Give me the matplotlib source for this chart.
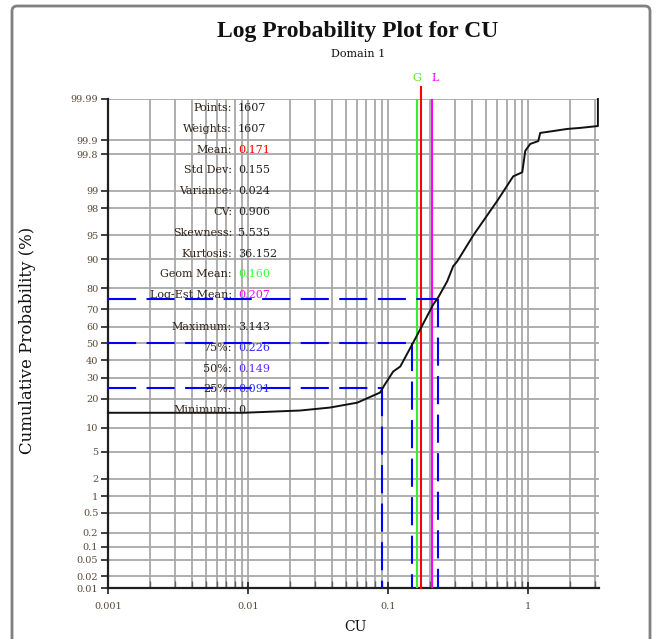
import math
import numpy as np
import matplotlib
matplotlib.use("Agg")
import matplotlib.pyplot as plt
from matplotlib.ticker import FixedLocator, NullLocator, LogLocator, NullFormatter, FixedFormatter
from matplotlib.patches import FancyBboxPatch

# ---------------- data ----------------
cu_values = [0.001, 0.0092, 0.0235, 0.0385, 0.0601, 0.0877, 0.0936, 0.1086, 0.122,
             0.151, 0.169, 0.210, 0.2275, 0.264, 0.291, 0.311, 0.405, 0.601, 0.781,
             0.906, 0.952, 1.033, 1.179, 1.218, 1.484, 1.899, 2.35, 3.143, 3.143]
cum_prob = [14.6, 14.6, 15.4, 16.5, 18.4, 22.8, 26.1, 33.5, 36.3,
            50.6, 58.4, 72.4, 75.8, 82.8, 88.0, 89.4, 95.0, 98.5, 99.45,
            99.54, 99.83, 99.88, 99.896, 99.932, 99.938, 99.945, 99.948, 99.953, 99.99]

y_ticks = [99.99, 99.9, 99.8, 99, 98, 95, 90, 80, 70, 60, 50, 40, 30, 20, 10, 5, 2, 1,
           0.5, 0.2, 0.1, 0.05, 0.02, 0.01]
y_tick_labels = ["99.99", "99.9", "99.8", "99", "98", "95", "90", "80", "70", "60", "50",
                 "40", "30", "20", "10", "5", "2", "1", "0.5", "0.2", "0.1", "0.05",
                 "0.02", "0.01"]
x_ticks = [0.001, 0.01, 0.1, 1]
x_tick_labels = ["0.001", "0.01", "0.1", "1"]

mean_val = 0.171
geom_mean = 0.160
logest_mean = 0.207
pct_levels = [25, 50, 75]
pct_values = [0.091, 0.149, 0.226]

stat_names = ["Points:", "Weights:", "Mean:", "Std Dev:", "Variance:", "CV:", "Skewness:",
              "Kurtosis:", "Geom Mean:", "Log-Est Mean:", "Maximum:", "75%:", "50%:",
              "25%:", "Minimum:"]
stat_values = ["1607", "1607", "0.171", "0.155", "0.024", "0.906", "5.535", "36.152",
               "0.160", "0.207", "3.143", "0.226", "0.149", "0.091", "0"]
stat_colors = ["#202020", "#202020", "#ff0000", "#202020", "#202020", "#202020", "#202020",
               "#202020", "#33ff33", "#ff00ff", "#202020", "#2a2aff", "#5a2aff",
               "#2a2aff", "#202020"]

# ---------------- probability scale ----------------
_a = [-3.969683028665376e+01, 2.209460984245205e+02, -2.759285104469687e+02,
      1.383577518672690e+02, -3.066479806614716e+01, 2.506628277459239e+00]
_b = [-5.447609879822406e+01, 1.615858368580409e+02, -1.556989798598866e+02,
      6.680131188771972e+01, -1.328068155288572e+01]
_c = [-7.784894002430293e-03, -3.223964580411365e-01, -2.400758277161838e+00,
      -2.549732539343734e+00, 4.374664141464968e+00, 2.938163982698783e+00]
_d = [7.784695709041462e-03, 3.224671290700398e-01, 2.445134137142996e+00,
      3.754408661907416e+00]


def _ppf1(p):
    p = min(max(p, 1e-12), 1 - 1e-12)
    plow = 0.02425
    if p < plow:
        q = math.sqrt(-2 * math.log(p))
        return (((((_c[0]*q+_c[1])*q+_c[2])*q+_c[3])*q+_c[4])*q+_c[5]) / \
               ((((_d[0]*q+_d[1])*q+_d[2])*q+_d[3])*q+1)
    if p > 1 - plow:
        q = math.sqrt(-2 * math.log(1 - p))
        return -(((((_c[0]*q+_c[1])*q+_c[2])*q+_c[3])*q+_c[4])*q+_c[5]) / \
                ((((_d[0]*q+_d[1])*q+_d[2])*q+_d[3])*q+1)
    q = p - 0.5
    r = q * q
    return (((((_a[0]*r+_a[1])*r+_a[2])*r+_a[3])*r+_a[4])*r+_a[5])*q / \
           (((((_b[0]*r+_b[1])*r+_b[2])*r+_b[3])*r+_b[4])*r+1)


def forward(pct):
    arr = np.asarray(pct, dtype=float)
    out = np.array([_ppf1(v / 100.0) if np.isfinite(v) else np.nan for v in arr.ravel()])
    return out.reshape(arr.shape)


def inverse(z):
    arr = np.asarray(z, dtype=float)
    out = np.array([50.0 * (1 + math.erf(v / math.sqrt(2))) if np.isfinite(v) else np.nan
                    for v in arr.ravel()])
    return out.reshape(arr.shape)


# ---------------- figure ----------------
W, H = 658, 639
fig = plt.figure(figsize=(W / 100, H / 100), dpi=100)
serif = ["Liberation Serif", "DejaVu Serif"]
wserif = ["DejaVu Serif"]

def fx(px):
    return px / W

def fy(py):
    return 1 - py / H

# outer border
border = FancyBboxPatch((fx(12), fy(660)), fx(650) - fx(12), fy(6) - fy(660),
                        boxstyle="round,pad=0,rounding_size=0.008",
                        transform=fig.transFigure, fill=False,
                        edgecolor="#808080", linewidth=2.0, clip_on=False)
fig.patches.append(border)

ax_l, ax_r, ax_t, ax_b = 108, 599, 99, 588
ax = fig.add_axes([fx(ax_l), fy(ax_b), fx(ax_r) - fx(ax_l), fy(ax_t) - fy(ax_b)])
ax.set_xscale("log")
ax.set_yscale("function", functions=(forward, inverse))
ax.set_xlim(0.001, 3.2)
ax.set_ylim(0.01, 99.99)

grid_color = "#a8a8a8"
ax.xaxis.set_major_locator(FixedLocator(x_ticks))
ax.xaxis.set_major_formatter(FixedFormatter(x_tick_labels))
ax.xaxis.set_minor_locator(LogLocator(base=10, subs=np.arange(2, 10)))
ax.xaxis.set_minor_formatter(NullFormatter())
ax.yaxis.set_major_locator(FixedLocator(y_ticks))
ax.yaxis.set_major_formatter(FixedFormatter(y_tick_labels))
ax.yaxis.set_minor_locator(NullLocator())

ax.grid(True, which="major", color=grid_color, linewidth=1.3)
ax.grid(True, which="minor", axis="x", color=grid_color, linewidth=1.3)
ax.set_axisbelow(True)

for s in ["top", "right"]:
    ax.spines[s].set_visible(False)
for s in ["left", "bottom"]:
    ax.spines[s].set_color("#202020")
    ax.spines[s].set_linewidth(1.6)

ax.tick_params(axis="y", which="major", direction="out", length=5, width=1.2,
               colors="#202020", labelsize=7, pad=2)
ax.tick_params(axis="x", which="major", direction="inout", length=8, width=1.2,
               colors="#202020", labelsize=7, pad=6)
ax.tick_params(axis="x", which="minor", direction="in", length=5, width=1.0, colors="#606060")
for lab in ax.get_xticklabels() + ax.get_yticklabels():
    lab.set_family(wserif)
    lab.set_color("#5a4a3a")

# mean lines
xt = ax.get_xaxis_transform()
ax.axvline(geom_mean, color="#33ee33", linewidth=1.5, zorder=3)
ax.axvline(logest_mean, color="#ff00ff", linewidth=1.5, zorder=3)
ax.plot([mean_val, mean_val], [0, 1.0245], color="#ff0000", linewidth=1.5,
        zorder=3, clip_on=False, transform=xt)
ax.text(geom_mean, 1.043, "G", color="#66dd22", fontsize=8, family=wserif,
        ha="center", va="center", transform=xt)
ax.text(logest_mean * 1.04, 1.043, "L", color="#ff00ff", fontsize=8, family=wserif,
        ha="center", va="center", transform=xt)

# percentile dashed lines
for lvl, val in zip(pct_levels, pct_values):
    ax.plot([0.001, val], [lvl, lvl], color="#0000ff", linewidth=1.5,
            dashes=(13.5, 5), zorder=4)
    ax.plot([val, val], [lvl, 0.01], color="#0000ff", linewidth=1.5,
            dashes=(13.5, 5), zorder=4)

# curve
ax.plot(cu_values, cum_prob, color="#111111", linewidth=1.4, zorder=5, clip_on=False)

# stats text
y0, step = 108, 20.8
for i, (name, val, col) in enumerate(zip(stat_names, stat_values, stat_colors)):
    y = y0 + i * step + (11 if i >= 10 else 0)
    fig.text(fx(232), fy(y), name, ha="right", va="center", fontsize=8,
             family=wserif, color="#302418", zorder=6)
    fig.text(fx(238), fy(y), val, ha="left", va="center", fontsize=8,
             family=wserif, color=col, zorder=6)

# titles
fig.text(fx(358), fy(31), "Log Probability Plot for CU", ha="center", va="center",
         fontsize=17, fontweight="bold", family=serif, color="#111111")
fig.text(fx(358), fy(54), "Domain 1", ha="center", va="center", fontsize=8,
         family=wserif, color="#111111")
fig.text(fx(28), fy(340), "Cumulative Probability (%)", ha="center", va="center",
         rotation=90, fontsize=12, family=wserif, color="#111111")
fig.text(fx(355), fy(627), "CU", ha="center", va="center", fontsize=10,
         family=wserif, color="#111111")

fig.savefig("out.png", dpi=100)
